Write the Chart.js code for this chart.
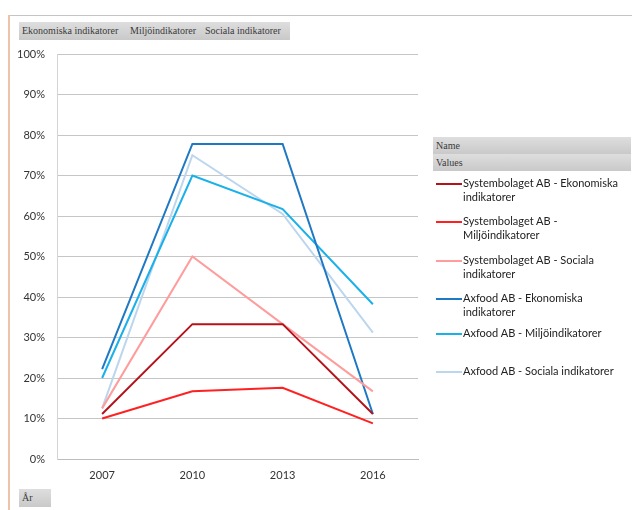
<!DOCTYPE html>
<html>
<head>
<meta charset="utf-8">
<script src="https://cdn.jsdelivr.net/npm/chart.js@4/dist/chart.umd.min.js"></script>
<style>
  html, body { margin: 0; padding: 0; background: #fff; }
  body { width: 632px; height: 510px; position: relative; overflow: hidden; font-family: Lato, "Open Sans", sans-serif; }
  #frameTop { position: absolute; left: 9px; top: 15px; width: 623px; height: 1px; background: #c4c4c4; }
  #frameLeft { position: absolute; left: 8px; top: 15px; width: 2px; height: 495px; background: #ebc4ab; }
  .fieldBtn {
    position: absolute; height: 18px; line-height: 18px;
    background: linear-gradient(#dedede, #c9c9c9);
    font-family: "Liberation Serif", "DejaVu Serif", serif; font-size: 10px; color: #3a3a3a;
    padding-left: 3px; box-sizing: border-box; white-space: nowrap; overflow: hidden;
  }
  #chartBox { position: absolute; left: 0; top: 0; width: 632px; height: 510px; }
  #legend { position: absolute; left: 433px; top: 171px; width: 199px; }
  .legItem { position: absolute; left: 3px; font-size: 11px; color: #222; line-height: 14px; }
  .legItem .swatch { position: absolute; left: 0; top: 9px; width: 26px; height: 2px; }
  .legItem .txt { position: absolute; left: 27px; top: 2px; width: 170px; }
</style>
</head>
<body>
<div id="frameTop"></div>
<div id="frameLeft"></div>
<div class="fieldBtn" style="left:19px;top:22px;width:108px;">Ekonomiska indikatorer</div>
<div class="fieldBtn" style="left:127px;top:22px;width:75px;">Miljöindikatorer</div>
<div class="fieldBtn" style="left:202px;top:22px;width:88px;">Sociala indikatorer</div>
<div class="fieldBtn" style="left:433px;top:137px;width:198px;height:17px;line-height:17px;">Name</div>
<div class="fieldBtn" style="left:433px;top:154px;width:198px;height:17px;line-height:17px;">Values</div>
<div class="fieldBtn" style="left:19px;top:489px;width:32px;">År</div>
<div id="chartBox"><canvas id="chart" width="632" height="510"></canvas></div>
<div id="legend"></div>
<script>
// Years on the x axis
const years = ['2007', '2010', '2013', '2016'];

// Share of indicators reported, in percent
const systembolagetEkonomi = [11.1, 33.3, 33.3, 11.1];
const systembolagetMiljo = [10.0, 16.7, 17.6, 8.8];
const systembolagetSocial = [12.5, 50.0, 33.3, 16.7];
const axfoodEkonomi = [22.2, 77.8, 77.8, 11.1];
const axfoodMiljo = [20.0, 70.0, 61.7, 38.2];
const axfoodSocial = [12.5, 75.0, 60.5, 31.2];

const seriesNames = [
    'Systembolaget AB - Ekonomiska indikatorer',
    'Systembolaget AB - Miljöindikatorer',
    'Systembolaget AB - Sociala indikatorer',
    'Axfood AB - Ekonomiska indikatorer',
    'Axfood AB - Miljöindikatorer',
    'Axfood AB - Sociala indikatorer'
];
const seriesColors = ['#b3141c', '#ff2121', '#ff9c9c', '#1e78c4', '#1ab0ea', '#bcd6ee'];
const seriesValues = [systembolagetEkonomi, systembolagetMiljo, systembolagetSocial,
                      axfoodEkonomi, axfoodMiljo, axfoodSocial];

const tickFont = { family: 'Lato, "Open Sans", sans-serif', size: 11 };

const datasets = seriesNames.map((name, i) => ({
    label: name,
    data: seriesValues[i],
    borderColor: seriesColors[i],
    backgroundColor: seriesColors[i],
    borderWidth: 2,
    pointRadius: 0,
    tension: 0
}));

const chart = new Chart(document.getElementById('chart').getContext('2d'), {
    type: 'line',
    data: { labels: years, datasets: datasets },
    options: {
        responsive: false,
        animation: false,
        layout: { padding: { left: 0, top: 54, right: 214, bottom: 0 } },
        plugins: { legend: { display: false }, tooltip: { enabled: false } },
        scales: {
            x: {
                offset: true,
                grid: { display: false, drawTicks: false },
                border: { color: '#bdbdbd', width: 1 },
                ticks: { font: tickFont, color: '#333', padding: 10 },
                afterFit: scale => { scale.height = 51; }
            },
            y: {
                min: 0,
                max: 100,
                ticks: {
                    stepSize: 10,
                    font: tickFont,
                    color: '#333',
                    padding: 12,
                    callback: v => v + '%'
                },
                grid: { color: '#c6c6c6', lineWidth: 1, drawTicks: false },
                border: { color: '#d4d4d4', width: 1 },
                afterFit: scale => { scale.width = 57; }
            }
        }
    }
});

// Legend beside the plot, built from the chart's datasets
const legendTops = [3, 41, 80, 118, 153, 191];
const legend = document.getElementById('legend');
chart.data.datasets.forEach((ds, i) => {
    const item = document.createElement('div');
    item.className = 'legItem';
    item.style.top = legendTops[i] + 'px';
    const sw = document.createElement('div');
    sw.className = 'swatch';
    sw.style.background = ds.borderColor;
    const txt = document.createElement('div');
    txt.className = 'txt';
    txt.textContent = ds.label;
    item.appendChild(sw);
    item.appendChild(txt);
    legend.appendChild(item);
});
</script>
</body>
</html>
